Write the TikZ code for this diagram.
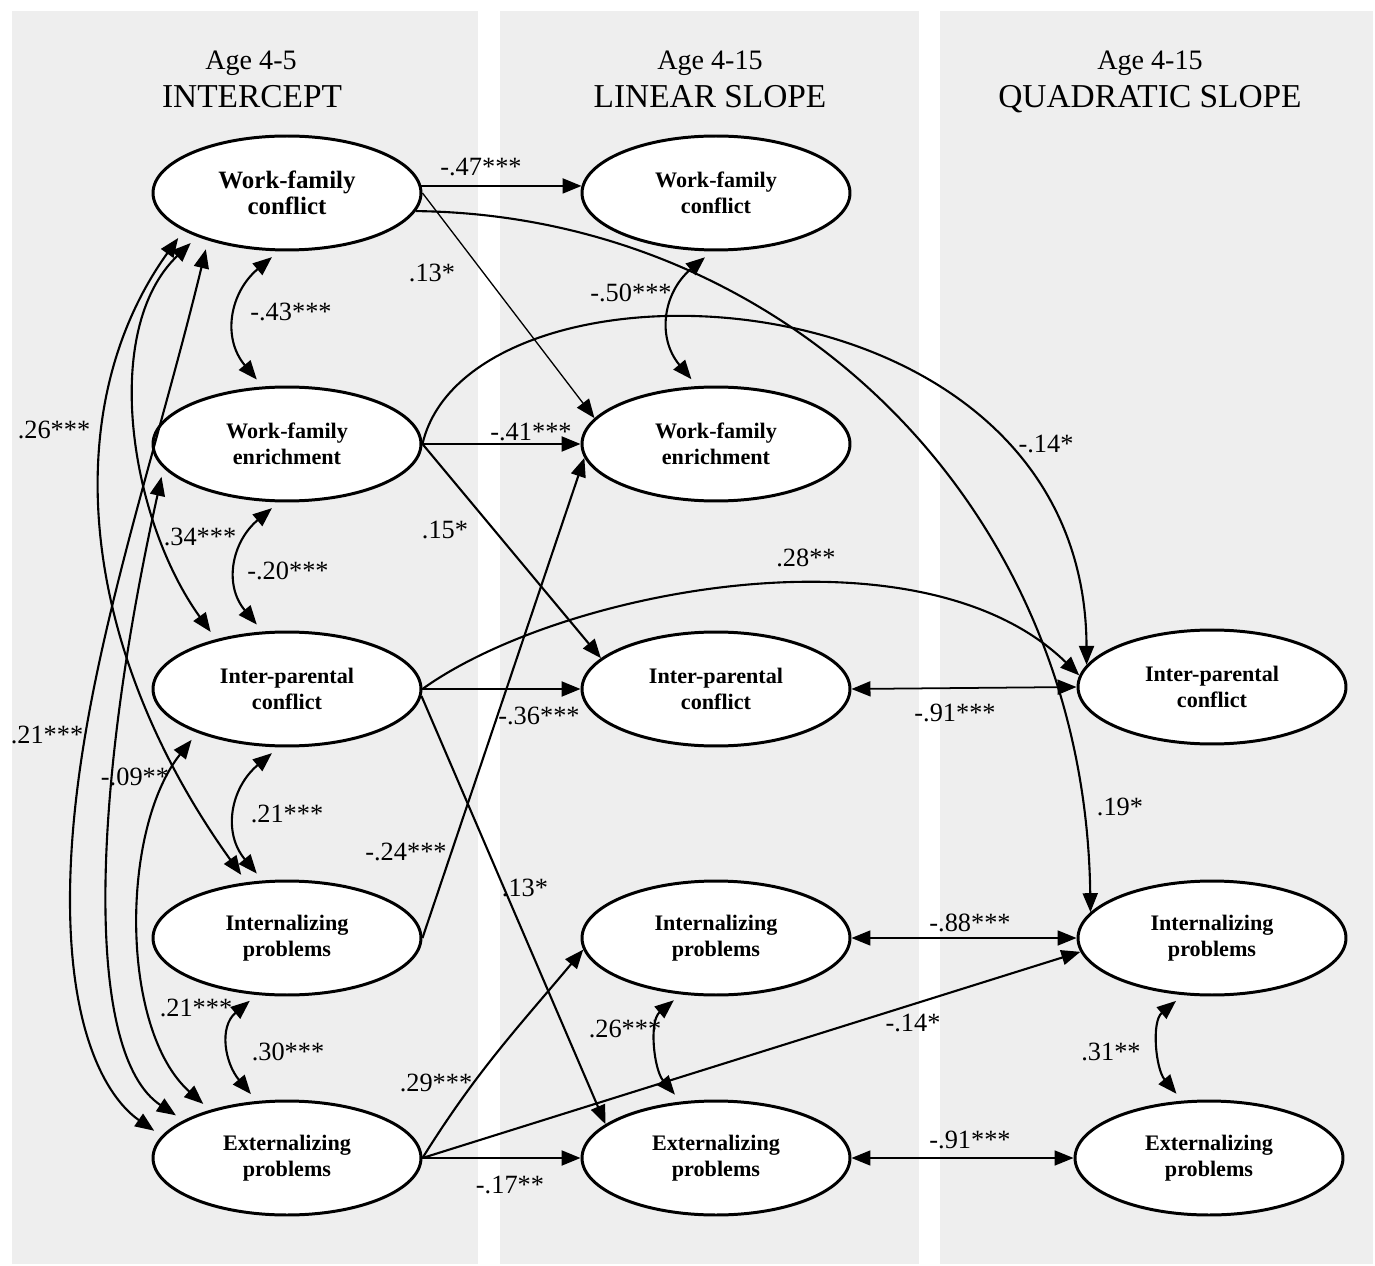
\documentclass[tikz,border=0pt]{standalone}
\usepackage{fontspec}
\setmainfont{Liberation Serif}
\usetikzlibrary{arrows.meta,shapes.geometric}
\definecolor{panelgray}{RGB}{238,238,238}
\tikzset{
  factor/.style={ellipse, draw, line width=1.7pt, fill=white, minimum width=5.36cm,
    minimum height=2.28cm, inner sep=0pt, align=center,
    font=\fontsize{12.6}{14.7}\selectfont\bfseries},
  coef/.style={inner sep=0pt, font=\fontsize{15}{18}\selectfont},
  agelabel/.style={anchor=base, font=\fontsize{16}{19}\selectfont},
  growth/.style={anchor=base, font=\fontsize{19}{22}\selectfont},
  tip/.tip={Triangle[length=0.38cm,width=0.3cm]},
  reg/.style={line width=1.2pt, -tip},
  dbl/.style={line width=1pt, tip-tip},
  corr/.style={line width=1.2pt, tip-tip, shorten <=0.18cm, shorten >=0.18cm},
}
\begin{document}
\begin{tikzpicture}[x=0.02cm,y=-0.02cm]
\useasboundingbox (0,0) rectangle (1375,1266);
\fill[panelgray] (12,11) rectangle (478,1264);
\fill[panelgray] (500,11) rectangle (919,1264);
\fill[panelgray] (940,11) rectangle (1373,1264);

\node[agelabel] (age1) at (251,70) {Age 4-5};
\node[growth] (head1) at (252,108) {INTERCEPT};
\node[agelabel] (age2) at (710,70) {Age 4-15};
\node[growth] (head2) at (710,108) {LINEAR SLOPE};
\node[agelabel] (age3) at (1150,70) {Age 4-15};
\node[growth] (head3) at (1150,108) {QUADRATIC SLOPE};

\node[factor, font=\fontsize{14.2}{14.7}\selectfont\bfseries] (wfc1) at (287,193) {Work-family\\conflict};
\node[factor] (wfe1) at (287,444) {Work-family\\enrichment};
\node[factor] (ipc1) at (287,689) {Inter-parental\\conflict};
\node[factor] (int1) at (287,938) {Internalizing\\problems};
\node[factor] (ext1) at (287,1158) {Externalizing\\problems};

\node[factor] (wfc2) at (716,193) {Work-family\\conflict};
\node[factor] (wfe2) at (716,444) {Work-family\\enrichment};
\node[factor] (ipc2) at (716,689) {Inter-parental\\conflict};
\node[factor] (int2) at (716,938) {Internalizing\\problems};
\node[factor] (ext2) at (716,1158) {Externalizing\\problems};

\node[factor] (ipc3) at (1212,687) {Inter-parental\\conflict};
\node[factor] (int3) at (1212,938) {Internalizing\\problems};
\node[factor] (ext3) at (1209,1158) {Externalizing\\problems};

\draw[reg] (wfc1.3) -- (wfc2.177);
\draw[reg] (wfe1.east) -- (wfe2.west);
\draw[reg] (ipc1.east) -- (ipc2.west);
\draw[reg] (ext1.east) -- (ext2.west);
\draw[reg, line width=0.75pt] (wfc1.east) -- (wfe2.168);
\draw[reg] (wfe1.east) -- (ipc2.165);
\draw[reg] (ipc1.357) -- (ext2.163);
\draw[reg] (int1.east) -- (wfe2.186);
\draw[reg] (ext1.east) to[out=58,in=230] (int2.185);
\draw[reg] (ext1.east) -- (int3.186);
\draw[reg] (wfc1.352) .. controls (780,215) and (1085,500) .. (int3.168);
\draw[reg] (wfe1.east) .. controls (470,240) and (1085,260) .. (ipc3.170);
\draw[reg] (ipc1.east) .. controls (560,590) and (920,520) .. (ipc3.175);

\draw[dbl] (ipc2.east) -- (ipc3.west);
\draw[dbl] (int2.east) -- (int3.west);
\draw[dbl] (ext2.east) -- (ext3.west);

\draw[corr, looseness=1.2] (wfc1.262) to[out=220,in=130] (wfe1.113);
\draw[corr, looseness=1.2] (wfe1.262) to[out=220,in=130] (ipc1.113);
\draw[corr, looseness=1.2] (ipc1.262) to[out=220,in=130] (int1.113);
\draw[corr, looseness=1.2] (int1.242) to[out=220,in=130] (ext1.118);
\draw[corr, looseness=1.2] (wfc2.266) to[out=220,in=130] (wfe2.108);
\draw[corr] (int2.238) to[out=220,in=130] (ext2.122);
\draw[corr] (int3.243) to[out=220,in=130] (ext3.115);

\draw[corr] (wfc1.200) .. controls (55,410) and (80,650) .. (int1.126);
\draw[corr] (wfc1.206) .. controls (100,330) and (130,520) .. (ipc1.145);
\draw[corr] (wfc1.211) .. controls (150,480) and (70,700) .. (70,900)
  .. controls (70,1040) and (110,1100) .. (ext1.170);
\draw[corr] (wfe1.191) .. controls (90,800) and (85,1055) .. (ext1.160);
\draw[corr] (ipc1.206) .. controls (120,830) and (120,1030) .. (ext1.148);

\node[coef] (c47) at (481,167) {-.47***};
\node[coef] (c13a) at (432,273) {.13*};
\node[coef] (c50) at (631,293) {-.50***};
\node[coef] (c43) at (291,312) {-.43***};
\node[coef] (c41) at (531,432) {-.41***};
\node[coef] (c26a) at (54,430) {.26***};
\node[coef] (c14a) at (1046,444) {-.14*};
\node[coef] (c34) at (200,537) {.34***};
\node[coef] (c15) at (445,530) {.15*};
\node[coef] (c28) at (806,558) {.28**};
\node[coef] (c20) at (288,571) {-.20***};
\node[coef] (c36) at (539,716) {-.36***};
\node[coef] (c91a) at (955,713) {-.91***};
\node[coef] (c21a) at (47,735) {.21***};
\node[coef] (c09) at (135,777) {-.09**};
\node[coef] (c19) at (1120,807) {.19*};
\node[coef] (c21b) at (287,814) {.21***};
\node[coef] (c24) at (406,852) {-.24***};
\node[coef] (c13b) at (525,888) {.13*};
\node[coef] (c88) at (970,923) {-.88***};
\node[coef] (c21c) at (196,1008) {.21***};
\node[coef] (c14b) at (913,1023) {-.14*};
\node[coef] (c26b) at (625,1029) {.26***};
\node[coef] (c30) at (288,1052) {.30***};
\node[coef] (c31) at (1111,1052) {.31**};
\node[coef] (c29) at (436,1083) {.29***};
\node[coef] (c91b) at (970,1140) {-.91***};
\node[coef] (c17) at (510,1185) {-.17**};
\end{tikzpicture}
\end{document}
